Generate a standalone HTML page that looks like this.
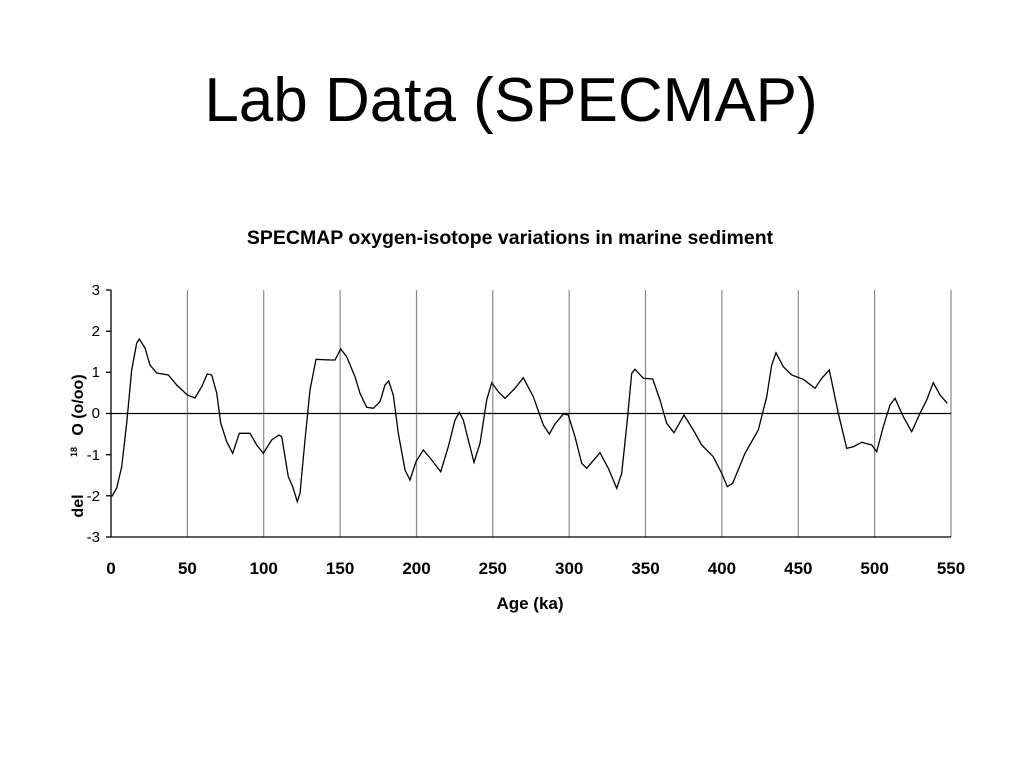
<!DOCTYPE html>
<html><head><meta charset="utf-8"><style>
body{margin:0;background:#fff;width:1024px;height:768px;overflow:hidden;font-family:"Liberation Sans",sans-serif}
</style></head><body>
<svg width="1024" height="768" xmlns="http://www.w3.org/2000/svg" font-family="Liberation Sans, sans-serif">
<text x="511" y="121" font-size="62" text-anchor="middle">Lab Data (SPECMAP)</text>
<text x="510" y="244" font-size="19.5" font-weight="bold" text-anchor="middle">SPECMAP oxygen-isotope variations in marine sediment</text>
<g stroke="#888" stroke-width="1.2">
<line x1="187.4" y1="290" x2="187.4" y2="537"/><line x1="263.7" y1="290" x2="263.7" y2="537"/><line x1="340.1" y1="290" x2="340.1" y2="537"/><line x1="416.5" y1="290" x2="416.5" y2="537"/><line x1="492.8" y1="290" x2="492.8" y2="537"/><line x1="569.2" y1="290" x2="569.2" y2="537"/><line x1="645.5" y1="290" x2="645.5" y2="537"/><line x1="721.9" y1="290" x2="721.9" y2="537"/><line x1="798.3" y1="290" x2="798.3" y2="537"/><line x1="874.6" y1="290" x2="874.6" y2="537"/><line x1="951" y1="290" x2="951" y2="537"/>
</g>
<g stroke="#000" stroke-width="1.3">
<line x1="111" y1="290" x2="111" y2="537"/>
<line x1="111" y1="537" x2="951" y2="537"/>
<line x1="111" y1="413.5" x2="951" y2="413.5"/>
<line x1="106" y1="290" x2="111" y2="290"/><line x1="106" y1="331.2" x2="111" y2="331.2"/><line x1="106" y1="372.3" x2="111" y2="372.3"/><line x1="106" y1="413.5" x2="111" y2="413.5"/><line x1="106" y1="454.7" x2="111" y2="454.7"/><line x1="106" y1="495.8" x2="111" y2="495.8"/><line x1="106" y1="537" x2="111" y2="537"/>
</g>
<g id="ticks" stroke="#000" stroke-width="1"></g>
<polyline fill="none" stroke="#000" stroke-width="1.3" points="111.7,496.7 116.7,488 121.7,466.7 126.7,423 131.7,370 136.7,343 139.3,339 145,348 150,365 156.7,373 168.3,375 176.7,385 187.3,395 195,398 201.7,386.7 207.3,374 211.7,375 216.7,393 220.7,423 226.7,441.7 232.7,453.3 239.3,433.3 250,433.3 256.7,445 263.3,453.3 271.7,440 279,435 281.7,436.7 288.3,476.7 292.7,486.7 297.3,501.7 300,493.3 305,440 310,390 316,359.3 330,360 335,360 340.7,349 346.7,356.7 355,376.7 360,393.3 366.7,407.3 373.3,408.3 380,401.7 385,385 388.7,381 393.3,395 398.3,433.3 405,470 410,480 416,461.7 423.3,450 431.7,460 440.7,471.7 448.3,446.7 455,420 459.3,412.3 463.3,420 468.3,440 474,462.3 480,443.3 486.7,400 491.7,382.7 498.3,391.7 505,398.3 515,388.3 523.3,377.7 533.3,396.7 543.3,425 549.3,434 555,424 563.3,414 568.3,415 575,436.7 581.7,463.3 586.7,468.3 600,452.7 608.3,468.3 616.7,488.3 621.7,473.3 627.3,420 631.7,373.3 635,369.3 643.3,378.3 652.7,379 660,400 666.7,423.3 674,432.7 684,415 693.3,430 701.7,445 713.3,456.7 721.7,473.3 727.3,486.7 732.7,483.3 745,453.3 758.3,430 766.7,396.7 771.7,365 776,352.7 783.3,366.7 791.7,375 803.3,379.3 815,388.3 821.7,378.3 829.3,370 838.3,413.3 846.7,448.3 853.3,446.7 861.7,442.3 871.7,445 876.7,451.7 883.3,426.7 890,405 895,398.3 903.3,416.7 911.7,431.7 920,413.3 926.7,400 933.3,382.7 940,395 947.3,403.3"/>
<g font-size="15" text-anchor="end">
<text x="100" y="295">3</text><text x="100" y="336">2</text><text x="100" y="377">1</text><text x="100" y="418">0</text><text x="100" y="460">-1</text><text x="100" y="501">-2</text><text x="100" y="542">-3</text>
</g>
<g font-size="17" font-weight="bold" text-anchor="middle">
<text x="111" y="574">0</text><text x="187.4" y="574">50</text><text x="263.7" y="574">100</text><text x="340.1" y="574">150</text><text x="416.5" y="574">200</text><text x="492.8" y="574">250</text><text x="569.2" y="574">300</text><text x="645.5" y="574">350</text><text x="721.9" y="574">400</text><text x="798.3" y="574">450</text><text x="874.6" y="574">500</text><text x="951" y="574">550</text>
<text x="530" y="609">Age (ka)</text>
</g>
<g font-weight="bold">
<text transform="translate(83,405) rotate(-90)" font-size="16" text-anchor="middle">O (o/oo)</text>
<text transform="translate(77,452) rotate(-90)" font-size="9" text-anchor="middle">18</text>
<text transform="translate(83,506) rotate(-90)" font-size="16" text-anchor="middle">del</text>
</g>
<script>
var g=document.getElementById('ticks'),s='';
for(var i=1;i<55;i++){if(i%5==0)continue;var x=111+i*840/550;s+='<line x1="'+x+'" y1="533" x2="'+x+'" y2="537"/>';}
for(var i=0;i<=550;i+=50){var x=111+i*840/550;s+='<line x1="'+x+'" y1="537" x2="'+x+'" y2="543"/>';}
g.innerHTML=s;
</script>
</svg>
</body></html>
